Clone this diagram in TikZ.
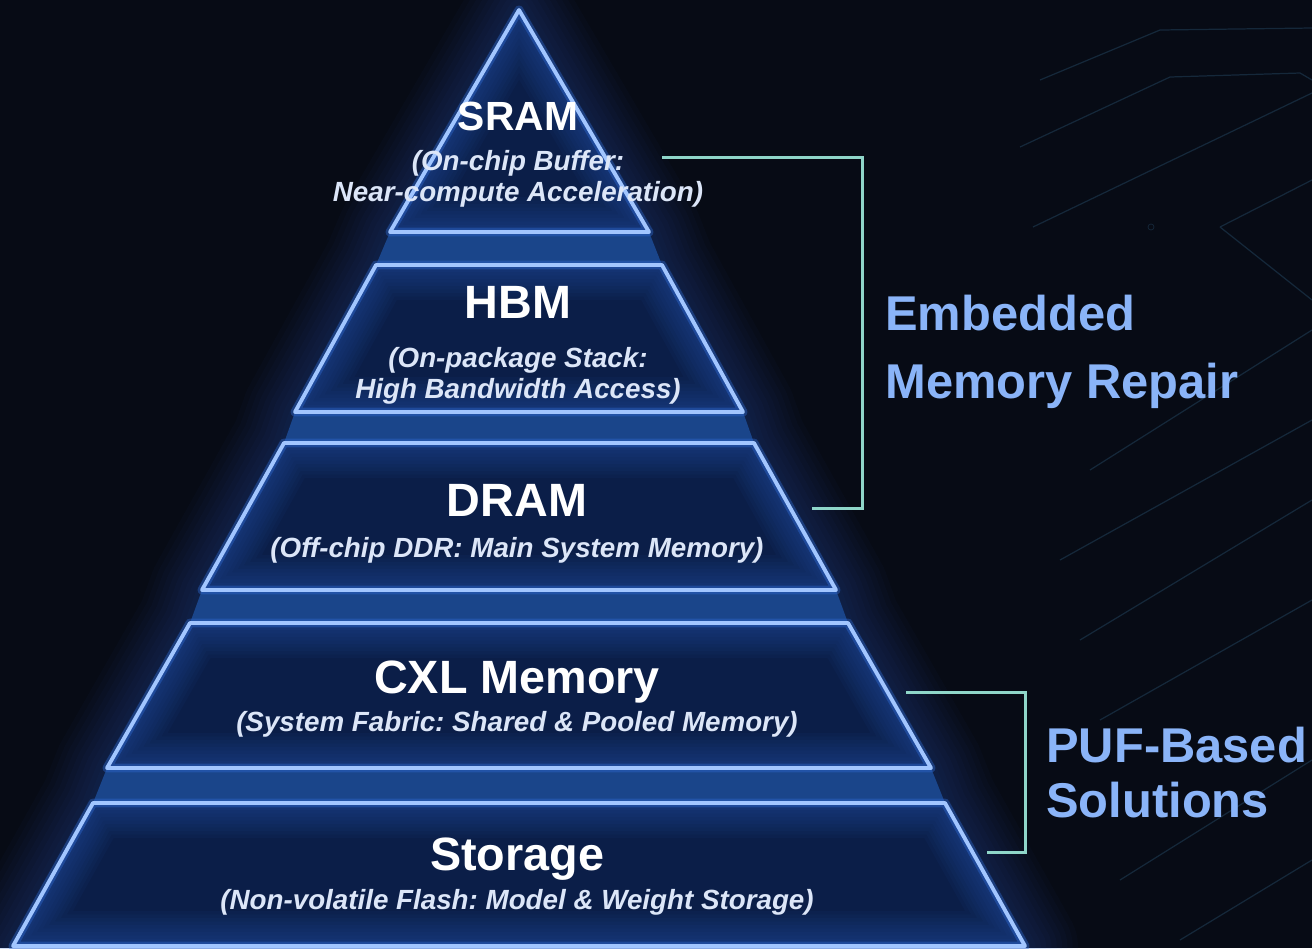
\documentclass[tikz,border=0pt]{standalone}
\usepackage{fontspec}
\setmainfont{Liberation Sans}
\usetikzlibrary{positioning}
\definecolor{bgnavy}{HTML}{070B15}
\definecolor{tierfill}{HTML}{0B1E48}
\definecolor{bandfill}{HTML}{1A458A}
\definecolor{edgeblue}{HTML}{A2C6FF}
\definecolor{glowblue}{HTML}{2E6AD4}
\definecolor{bracketc}{HTML}{8FD6C9}
\definecolor{labelblue}{HTML}{8AB4F8}
\definecolor{subtext}{HTML}{DCE6F8}
\definecolor{tracec}{HTML}{15283A}
\tikzset{
	title/.style={text=white, anchor=base, inner sep=0pt,
		font=\fontsize{26.6}{30}\selectfont\bfseries},
	subtitle/.style={text=subtext, anchor=base, align=center, inner sep=0pt,
		font=\fontsize{15.8}{17.6}\selectfont\bfseries\itshape\frenchspacing},
	sidelabel/.style={text=labelblue, anchor=base west, align=left, inner sep=0pt,
		font=\fontsize{27.8}{38.6}\selectfont\bfseries},
	bracket/.style={draw=bracketc, line width=1.7pt},
	trace/.style={draw=tracec, line width=.7pt}
}
% one layer of the pyramid: fill, inner glow, edge
\newcommand{\pyrtier}[1]{%
	\fill[tierfill] #1;
	\begin{scope}
		\clip #1;
		\foreach \w in {4,8,...,40}
			\draw[glowblue, opacity=.045, line width=\w pt, line join=round] #1;
	\end{scope}
	\draw[glowblue, opacity=.4, line width=5pt, line join=round] #1;
	\draw[edgeblue, line width=2.2pt, line join=round] #1;
}
\begin{document}
\begin{tikzpicture}[x=0.02cm, y=-0.02cm]
	\fill[bgnavy] (0,0) rectangle (1312,948);
	\useasboundingbox (0,0) rectangle (1312,948);
	% faint traces in the background
	\draw[trace] (1020,147) -- (1170,77) -- (1300,73) -- (1312,80);
	\draw[trace] (1033,227) -- (1312,93);
	\draw[trace] (1040,80) -- (1160,30) -- (1312,28);
	\draw[trace] (1220,227) -- (1312,180);
	\draw[trace] (1220,227) -- (1312,300);
	\draw[trace] (1060,560) -- (1312,420);
	\draw[trace] (1080,640) -- (1312,500);
	\draw[trace] (1100,720) -- (1312,600);
	\draw[trace] (1120,880) -- (1312,760);
	\draw[trace] (1180,940) -- (1312,860);
	\draw[trace] (1090,470) -- (1312,330);
	\draw[tracec] (1151,227) circle (3);

	% outer glow and the bands between layers
	\def\pyrside{(519,10) -- (649,232) -- (662,265) -- (743,412) -- (754,443) -- (836,590) -- (848,623) -- (931,768) -- (945,803) -- (1025,946) -- (13,946) -- (93,803) -- (107,768) -- (190,623) -- (202,590) -- (284,443) -- (295,412) -- (376,265) -- (390,232) -- cycle}
	\foreach \w in {6,12,...,60}
		\draw[glowblue, opacity=.03, line width=\w pt, line join=round] \pyrside;
	\fill[bandfill] \pyrside;

	\pyrtier{(519,10) -- (649,232) -- (390,232) -- cycle}
	\pyrtier{(376,265) -- (662,265) -- (743,412) -- (295,412) -- cycle}
	\pyrtier{(284,443) -- (754,443) -- (836,590) -- (202,590) -- cycle}
	\pyrtier{(190,623) -- (848,623) -- (931,768) -- (107,768) -- cycle}
	\pyrtier{(93,803) -- (945,803) -- (1025,946) -- (13,946) -- cycle}

	\node[title, font=\fontsize{23.2}{26}\selectfont\bfseries] (sram) at (518,130) {SRAM};
	\node[subtitle] (sramsub) at (518,201) {(On-chip Buffer:\\Near-compute Acceleration)};
	\node[title] (hbm) at (518,318) {HBM};
	\node[subtitle] (hbmsub) at (518,398) {(On-package Stack:\\High Bandwidth Access)};
	\node[title] (dram) at (517,516) {DRAM};
	\node[subtitle] (dramsub) at (517,557) {(Off-chip DDR: Main System Memory)};
	\node[title] (cxl) at (517,693) {CXL Memory};
	\node[subtitle] (cxlsub) at (517,731) {(System Fabric: Shared \& Pooled Memory)};
	\node[title] (stor) at (517,870) {Storage};
	\node[subtitle] (storsub) at (517,909) {(Non-volatile Flash: Model \& Weight Storage)};

	\node[sidelabel] (emb) at (885,398) {Embedded\\Memory Repair};
	\node[sidelabel, font=\fontsize{27.8}{31.2}\selectfont\bfseries] (puf) at (1046,817) {PUF-Based\\Solutions};

	\coordinate (embtop) at (662,157);
	\coordinate (embbot) at (812,508);
	\coordinate (puftop) at (906,692);
	\coordinate (pufbot) at (987,852);
	\draw[bracket] (embtop) -- ++(200,0) |- (embbot);
	\draw[bracket] (puftop) -- ++(119,0) |- (pufbot);
\end{tikzpicture}
\end{document}
